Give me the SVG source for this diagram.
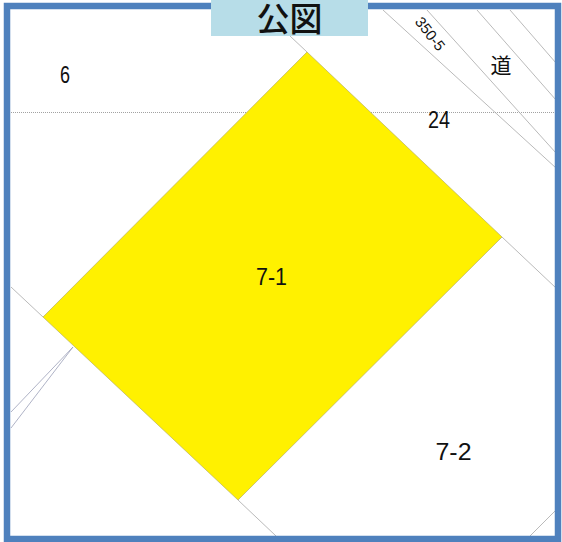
<svg xmlns="http://www.w3.org/2000/svg" width="562" height="542" viewBox="0 0 562 542">
<style>
.ln{stroke:#a8a8a8;stroke-width:0.8;fill:none}
.lb{stroke:#9aa0b8;stroke-width:0.8;fill:none}
.dot{stroke:#8a8a8a;stroke-width:0.8;stroke-dasharray:1 1;fill:none}
.lbl{font-family:"Liberation Sans","Noto Sans CJK JP",sans-serif;font-size:24px;fill:#111;text-anchor:middle}
.jp{font-family:"Noto Sans CJK JP",sans-serif;fill:#111;text-anchor:middle}
.ttl{font-family:"Liberation Sans","Noto Sans CJK JP",sans-serif;font-size:33px;font-weight:500;fill:#111;text-anchor:middle}
</style>
<rect x="0" y="0" width="562" height="542" fill="#ffffff"/>
<g id="lines">
<line class="dot" x1="11" y1="112.5" x2="555" y2="112.5"/>
<line class="ln" x1="383" y1="10" x2="556" y2="168"/>
<line class="ln" x1="427" y1="10" x2="556" y2="153"/>
<line class="ln" x1="477" y1="10" x2="556" y2="100"/>
<line class="ln" x1="510" y1="10" x2="556" y2="63"/>
<line class="ln" x1="290" y1="36" x2="307" y2="52"/>
<line class="ln" x1="502" y1="237" x2="556" y2="288"/>
<line class="ln" x1="43" y1="317" x2="11" y2="287"/>
<line class="lb" x1="73" y1="347" x2="11" y2="412"/>
<line class="lb" x1="73" y1="347" x2="11" y2="428"/>
<line class="ln" x1="238" y1="500" x2="276" y2="536"/>
<line class="ln" x1="530" y1="536" x2="556" y2="510"/>
</g>
<g id="parcel-7-1">
<polygon points="307,52 502,237 238,500 43,317" fill="#fff100" stroke="#b8b060" stroke-width="0.7"/>
<text class="lbl" x="271.5" y="285" textLength="31" lengthAdjust="spacingAndGlyphs">7-1</text>
</g>
<g id="parcel-6"><text class="lbl" x="65" y="83" textLength="10" lengthAdjust="spacingAndGlyphs">6</text></g>
<g id="parcel-24"><text class="lbl" x="439" y="128" textLength="22" lengthAdjust="spacingAndGlyphs">24</text></g>
<g id="parcel-7-2"><text class="lbl" x="453.5" y="460" textLength="36" lengthAdjust="spacingAndGlyphs">7-2</text></g>
<g id="parcel-350-5"><text class="lbl" style="font-size:15px" x="0" y="5" textLength="38" lengthAdjust="spacingAndGlyphs" transform="translate(430,34) rotate(52)">350-5</text></g>
<g id="road"><text class="jp" x="501" y="73" style="font-size:21px">道</text></g>
<rect id="frame" x="7" y="6" width="551" height="533" fill="none" stroke="#4f81bd" stroke-width="6.5"/>
<g id="title">
<rect x="211" y="0" width="157" height="36" fill="#b7dde8"/>
<text class="ttl" x="289.5" y="30.5">公図</text>
</g>
</svg>
